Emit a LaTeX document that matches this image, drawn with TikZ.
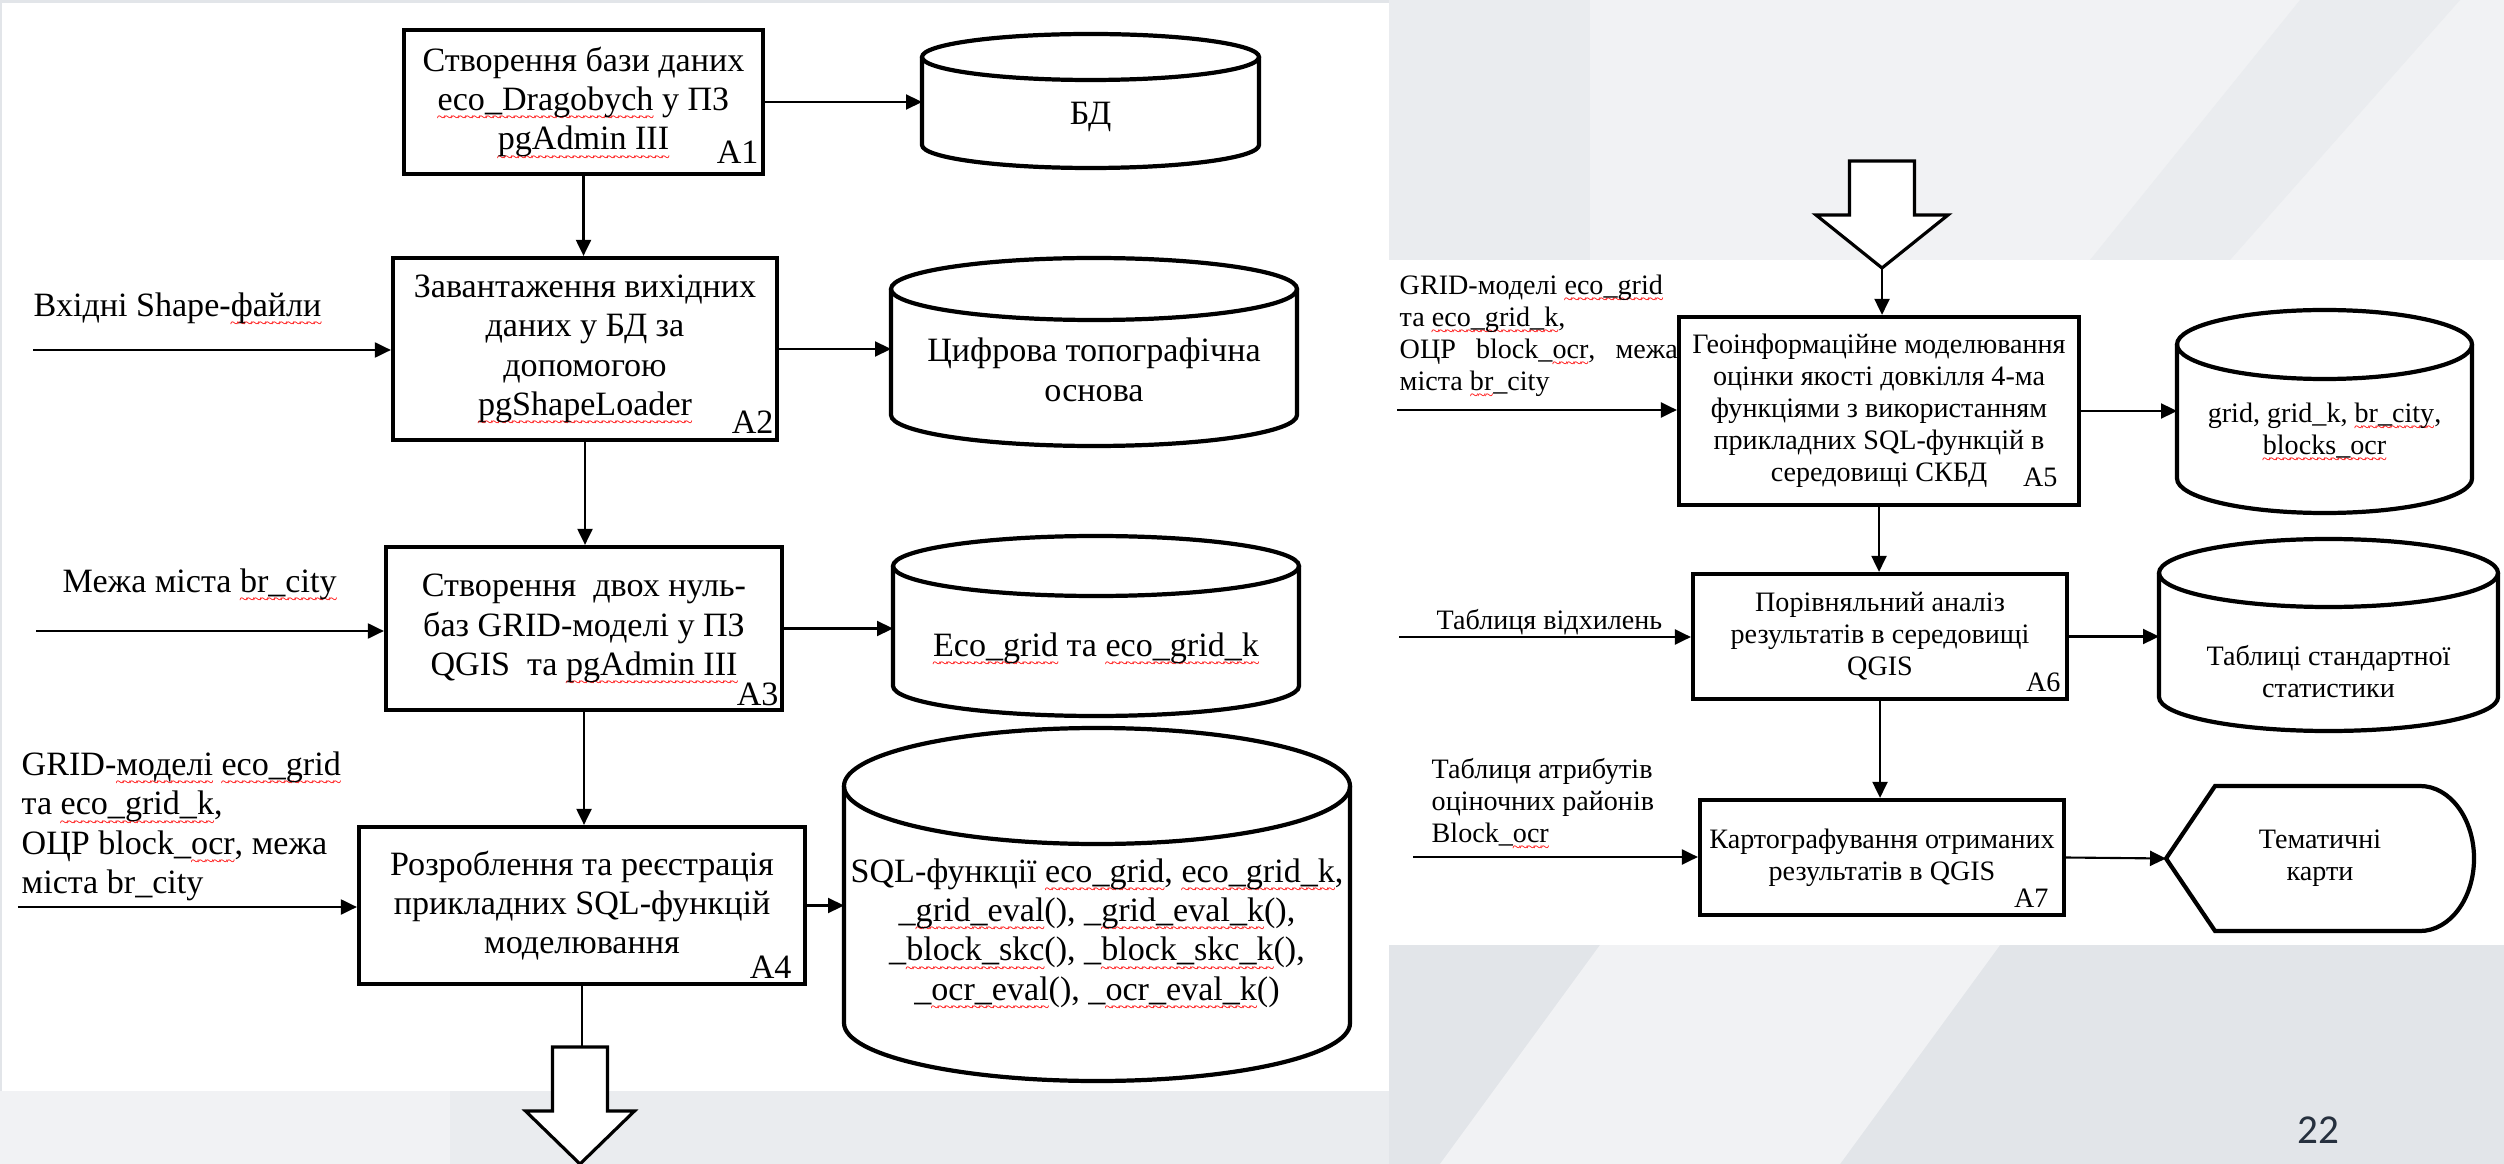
\documentclass[tikz,border=0pt]{standalone}
\usepackage{fontspec}
\setmainfont{Liberation Serif}
\newfontfamily\pagefont{Carlito}
\usepackage{tikz}
\definecolor{slidegray}{RGB}{226,229,233}
\definecolor{slidelight}{RGB}{241,242,244}
\definecolor{slidemid}{RGB}{234,236,239}
\definecolor{pagenum}{RGB}{38,48,62}
\usetikzlibrary{arrows.meta}
\usetikzlibrary{shapes}
\usetikzlibrary{positioning}
\newcommand{\bigtxt}{\fontsize{9.7}{11.2}\selectfont}
\newcommand{\smalltxt}{\fontsize{8}{9.1}\selectfont}
\newsavebox{\spellbox}
\newcommand{\spell}[1]{\sbox{\spellbox}{#1}\rlap{\raisebox{-0.36em}[0pt][0pt]{\textcolor{red}{\hbox to \wd\spellbox{\fontsize{4.5}{4.5}\selectfont\xleaders\hbox{\kern-0.25pt\textasciitilde\kern-0.25pt}\hfill}}}}\usebox{\spellbox}}
% cylinder outline round a store node: node, x radius, y radius
\newcommand{\storeshape}[3]{%
  \draw[storeline] ([yshift=-#3]#1.north) ellipse[x radius=#2, y radius=#3];
  \draw[storeline] ([yshift=-#3]#1.north west) -- ([yshift=#3]#1.south west) arc[start angle=180, end angle=360, x radius=#2, y radius=#3] -- ([yshift=-#3]#1.north east);}

\begin{document}
\begin{tikzpicture}
        \tikzset{every node/.style={inner sep=0.05cm},
                >={Triangle[length=0.16cm, width=0.15cm]},
                every edge/.style={draw=black, line width=0.6pt},
                box/.style={rectangle, draw, line width=1.2pt, fill=white, align=center},
                store/.style={rectangle, inner sep=0pt, outer sep=0pt},
                storeline/.style={line width=1.2pt},
                storetext/.style={align=center},
                tag/.style={anchor=south east, inner sep=0},
                intext/.style={anchor=west, inner sep=0, align=left},
                bigarrow/.style={draw, line width=0.9pt, fill=white}}

        \useasboundingbox (0,0) rectangle (25.04,-11.64);
        \fill[slidegray] (0,0) rectangle (25.04,-11.64);
        \fill[slidelight] (13.89,0) rectangle (25.04,-2.6);
        \fill[slidemid] (13.89,0) rectangle (15.9,-2.6);
        \fill[slidemid] (23.0,0) -- (24.6,0) -- (22.3,-2.6) -- (20.9,-2.6) -- cycle;
        \fill[slidemid] (0,-10.91) rectangle (13.89,-11.64);
        \fill[slidelight] (0,-10.91) rectangle (4.5,-11.64);
        \fill[slidelight] (16.0,-9.45) -- (20.0,-9.45) -- (18.4,-11.64) -- (14.4,-11.64) -- cycle;
        \fill[white] (0.02,-0.03) rectangle (13.89,-10.91);
        \fill[white] (13.89,-2.60) rectangle (25.04,-9.45);

        % left column
        \node[box, minimum width=3.59cm, minimum height=1.44cm, font=\bigtxt] (1) at (5.835,-1.02) {Створення бази даних\\ \spell{eco\_Dragobych} у ПЗ\\ \spell{pgAdmin III}};
        \node[box, minimum width=3.84cm, minimum height=1.82cm, font=\bigtxt] (2) at (5.85,-3.49) {Завантаження вихідних\\ даних у БД за\\ допомогою\\ \spell{pgShapeLoader}};
        \node[box, minimum width=3.96cm, minimum height=1.63cm, font=\bigtxt] (3) at (5.84,-6.285) {Створення\ \ двох нуль-\\ баз GRID-моделі у ПЗ\\ QGIS\ \ та \spell{pgAdmin III}};
        \node[box, minimum width=4.46cm, minimum height=1.57cm, font=\bigtxt] (4) at (5.82,-9.055) {Розроблення та реєстрація\\ прикладних SQL-функцій\\ моделювання};

        \node[tag, font=\bigtxt] (l1) at ([xshift=-0.06cm, yshift=0.12cm]1.south east) {A1};
        \node[tag, font=\bigtxt] (l2) at ([xshift=-0.05cm, yshift=0.08cm]2.south east) {A2};
        \node[tag, font=\bigtxt] (l3) at ([xshift=-0.05cm, yshift=0.06cm]3.south east) {A3};
        \node[tag, font=\bigtxt] (l4) at ([xshift=-0.15cm, yshift=0.07cm]4.south east) {A4};

        \node[store, minimum width=3.37cm, minimum height=1.34cm] (8) at (10.905,-1.01) {};
        \node[store, minimum width=4.06cm, minimum height=1.88cm] (9) at (10.94,-3.52) {};
        \node[store, minimum width=4.06cm, minimum height=1.80cm] (10) at (10.96,-6.26) {};
        \node[store, minimum width=5.06cm, minimum height=3.53cm] (11) at (10.97,-9.045) {};
        \storeshape{8}{1.685cm}{0.23cm}
        \storeshape{9}{2.03cm}{0.31cm}
        \storeshape{10}{2.03cm}{0.30cm}
        \storeshape{11}{2.53cm}{0.58cm}
        \node[storetext, font=\bigtxt] (8t) at ([yshift=-0.16cm]8.center) {БД};
        \node[storetext, font=\bigtxt] (9t) at ([yshift=-0.18cm]9.center) {Цифрова топографічна\\ основа};
        \node[storetext, font=\bigtxt] (10t) at ([yshift=-0.22cm]10.center) {\spell{Eco\_grid} та \spell{eco\_grid\_k}};
        \node[storetext, font=\bigtxt] (11t) at ([yshift=-0.285cm]11.center) {SQL-функції \spell{eco\_grid}, \spell{eco\_grid\_k},\\ \_\spell{grid\_eval}(), \_\spell{grid\_eval\_k}(),\\ \_\spell{block\_skc}(), \_\spell{block\_skc\_k}(),\\ \_\spell{ocr\_eval}(), \_\spell{ocr\_eval\_k}()};

        \node[intext, font=\bigtxt] (15) at (0.33,-3.08) {Вхідні Shape-\spell{файли}};
        \node[intext, font=\bigtxt] (16) at (0.62,-5.84) {Межа міста \spell{br\_city}};
        \node[intext, font=\bigtxt] (17) at (0.21,-8.265) {GRID-\spell{моделі} \spell{eco\_grid}\\ та \spell{eco\_grid\_k},\\ ОЦР block\_\spell{ocr}, межа\\ міста br\_city};

        \coordinate (i2) at (0.33,-3.50);
        \coordinate (i3) at (0.36,-6.31);
        \coordinate (i4) at (0.18,-9.07);
        \coordinate (o1) at (5.80,-10.47);

        \path [->] (i2) edge (i2 -| 2.west);
        \path [->] (i3) edge (i3 -| 3.west);
        \path [->] (i4) edge (i4 -| 4.west);
        \path [->] (1.south) edge (1.south |- 2.north);
        \path [->] (2.south) edge (2.south |- 3.north);
        \path [->] (3.south) edge (3.south |- 4.north);
        \path [->] (1.east) edge (1.east -| 8.west);
        \path [->] (2.east) edge (2.east -| 9.west);
        \path [->] (3.east) edge (3.east -| 10.west);
        \path [->] (4.east) edge (4.east -| 11.west);
        \path (4.south) edge (4.south |- o1);
        \draw[bigarrow] (o1) ++(-0.275,0) -- ++(0,-0.64) -- ++(-0.27,0) -- ++(0.545,-0.53) -- ++(0.545,0.53) -- ++(-0.27,0) -- ++(0,0.64) -- cycle;

        % right column
        \node[box, minimum width=4.00cm, minimum height=1.88cm, font=\smalltxt] (5) at (18.79,-4.11) {Геоінформаційне моделювання\\ оцінки якості довкілля 4-ма\\ функціями з використанням\\ прикладних SQL-функцій в\\ середовищі СКБД};
        \node[box, minimum width=3.74cm, minimum height=1.25cm, font=\smalltxt] (6) at (18.80,-6.365) {Порівняльний аналіз\\ результатів в середовищі\\ QGIS};
        \node[box, minimum width=3.64cm, minimum height=1.15cm, font=\smalltxt] (7) at (18.82,-8.575) {Картографування отриманих\\ результатів в QGIS};

        \node[tag, font=\smalltxt] (l5) at ([xshift=-0.23cm, yshift=0.20cm]5.south east) {A5};
        \node[tag, font=\smalltxt] (l6) at ([xshift=-0.08cm, yshift=0.09cm]6.south east) {A6};
        \node[tag, font=\smalltxt] (l7) at ([xshift=-0.17cm, yshift=0.09cm]7.south east) {A7};

        \node[store, minimum width=2.95cm, minimum height=2.03cm] (12) at (23.245,-4.115) {};
        \node[store, minimum width=3.39cm, minimum height=1.92cm] (13) at (23.285,-6.35) {};
        \storeshape{12}{1.475cm}{0.345cm}
        \storeshape{13}{1.695cm}{0.34cm}
        \node[storetext, font=\smalltxt] (12t) at ([yshift=-0.19cm]12.center) {grid, grid\_k, \spell{br\_city},\\ \spell{blocks\_ocr}};
        \node[storetext, font=\smalltxt] (13t) at ([yshift=-0.365cm]13.center) {Таблиці стандартної\\ статистики};

        \node[minimum width=3.08cm, minimum height=1.45cm, align=center, outer sep=0pt, font=\smalltxt] (14) at (23.20,-8.585) {Тематичні\\ карти};
        \draw[storeline] (14.west) -- ([xshift=0.49cm]14.north west) -- ([xshift=-0.54cm]14.north east) arc[start angle=90, end angle=-90, x radius=0.54cm, y radius=0.725cm] -- ([xshift=0.49cm]14.south west) -- cycle;

        \node[intext, font=\smalltxt] (18) at (13.99,-3.36) {GRID-моделі \spell{eco\_grid}\\ та \spell{eco\_grid\_k},\\ \makebox[2.78cm]{ОЦР\hfill block\_\spell{ocr},\hfill межа}\\ міста \spell{br}\_city};
        \node[intext, font=\smalltxt] (19) at (14.36,-6.22) {Таблиця відхилень};
        \node[intext, font=\smalltxt] (20) at (14.31,-8.025) {Таблиця атрибутів\\ оціночних районів\\ Block\_\spell{ocr}};

        \coordinate (i5) at (13.97,-4.10);
        \coordinate (i6) at (13.99,-6.37);
        \coordinate (i7) at (14.13,-8.57);
        \coordinate (o2) at (18.82,-2.68);

        \draw[bigarrow] (o2) -- ++(-0.66,0.53) -- ++(0.335,0) -- ++(0,0.54) -- ++(0.65,0) -- ++(0,-0.54) -- ++(0.335,0) -- cycle;
        \path [->] (o2) edge (o2 |- 5.north);
        \path [->] (5.south) edge (5.south |- 6.north);
        \path [->] (6.south) edge (6.south |- 7.north);
        \path [->] (i5) edge (i5 -| 5.west);
        \path [->] (i6) edge (i6 -| 6.west);
        \path [->] (i7) edge (i7 -| 7.west);
        \path [->] (5.east) edge (5.east -| 12.west);
        \path [->] (6.east) edge (6.east -| 13.west);
        \path [->] (7.east) edge (14.west);

        \node[font=\pagefont\fontsize{11.7}{14}\selectfont, text=pagenum, inner sep=0] (pg) at (23.18,-11.30) {22};
    \end{tikzpicture}
\end{document}
